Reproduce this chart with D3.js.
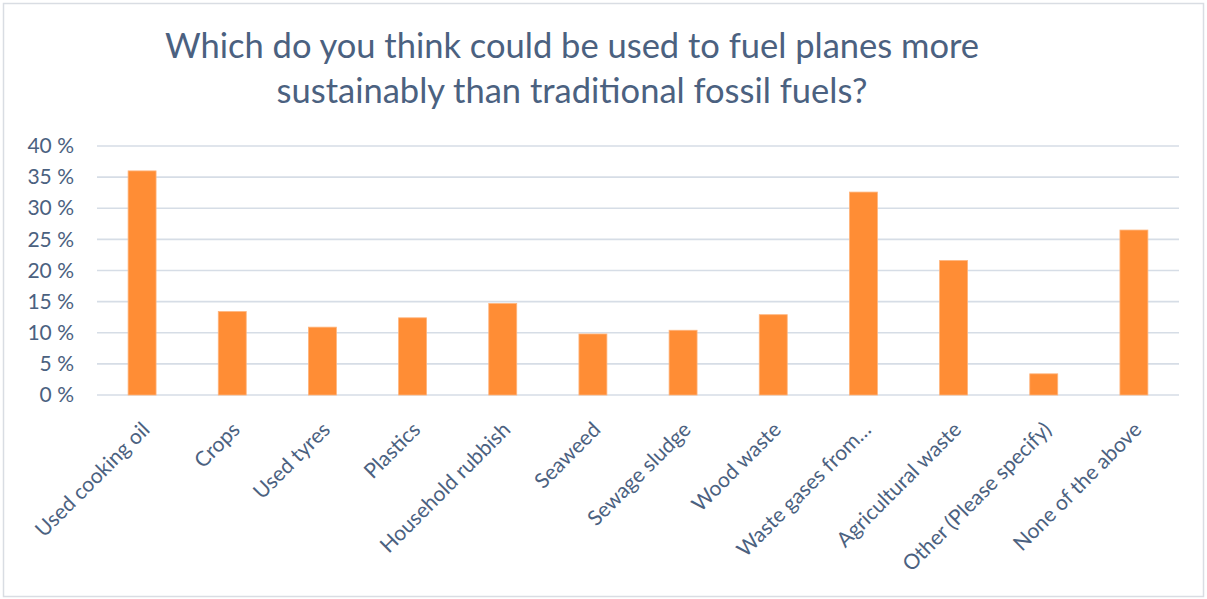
<!DOCTYPE html>
<html>
<head>
<meta charset="utf-8">
<script src="https://cdn.jsdelivr.net/npm/d3@7"></script>
<style>
  html, body { margin: 0; padding: 0; background: #fff; }
  svg { display: block; font-family: Lato, "Open Sans", sans-serif; }
</style>
</head>
<body>
<svg id="chart" width="1207" height="599"></svg>
<script>
// Survey answers: share of respondents choosing each fuel source
const categories = [
  "Used cooking oil", "Crops", "Used tyres", "Plastics", "Household rubbish",
  "Seaweed", "Sewage sludge", "Wood waste", "Waste gases from…",
  "Agricultural waste", "Other (Please specify)", "None of the above"
];
const shares = [36.0, 13.4, 10.9, 12.4, 14.7, 9.8, 10.4, 12.9, 32.6, 21.6, 3.4, 26.5];
const yTicks = [0, 5, 10, 15, 20, 25, 30, 35, 40];
const titleLines = [
  "Which do you think could be used to fuel planes more",
  "sustainably than traditional fossil fuels?"
];

const W = 1207, H = 599;
const margin = { top: 146, right: 28, bottom: 204, left: 97 };
const svg = d3.select("#chart");
const textColor = "#4b6180";
const font = "Lato, 'Open Sans', sans-serif";

// outer frame
svg.append("rect")
  .attr("x", 3.5).attr("y", 3.5)
  .attr("width", W - 7).attr("height", H - 6)
  .attr("fill", "#fff").attr("stroke", "#d9dde3").attr("stroke-width", 1.5);

const x = d3.scaleBand()
  .domain(categories)
  .range([margin.left, W - margin.right])
  .paddingInner(0.69).paddingOuter(0.345);

const y = d3.scaleLinear()
  .domain([0, 40])
  .range([H - margin.bottom, margin.top]);

// horizontal gridlines
svg.append("g")
  .selectAll("line")
  .data(yTicks)
  .join("line")
  .attr("x1", margin.left).attr("x2", W - margin.right)
  .attr("y1", d => y(d)).attr("y2", d => y(d))
  .attr("stroke", "#d6dde6").attr("stroke-width", 1.6);

// y axis labels
const yAxis = d3.axisLeft(y).tickValues(yTicks).tickSize(0).tickPadding(23)
  .tickFormat(d => d + " %");
svg.append("g")
  .attr("transform", `translate(${margin.left},0)`)
  .call(yAxis)
  .call(g => g.select(".domain").remove())
  .selectAll("text")
  .attr("fill", textColor)
  .style("font-size", "21px")
  .style("font-family", font);

// bars
svg.append("g")
  .selectAll("rect")
  .data(categories)
  .join("rect")
  .attr("x", d => x(d))
  .attr("width", x.bandwidth())
  .attr("y", (d, i) => y(shares[i]))
  .attr("height", (d, i) => y(0) - y(shares[i]))
  .attr("fill", "#ff8d35")
  .attr("stroke", "#ffb47c").attr("stroke-width", 0.8);

// x axis labels, rotated 45°
const xAxis = d3.axisBottom(x).tickSize(0).tickPadding(0);
svg.append("g")
  .attr("transform", `translate(0,${y(0)})`)
  .call(xAxis)
  .call(g => g.select(".domain").remove())
  .selectAll("text")
  .attr("fill", textColor)
  .style("font-size", "21px")
  .style("font-family", font)
  .attr("text-anchor", "end")
  .attr("dy", "0")
  .attr("transform", "translate(9,36) rotate(-45)");

// title
svg.append("g")
  .selectAll("text")
  .data(titleLines)
  .join("text")
  .attr("x", 572)
  .attr("y", (d, i) => 58 + i * 45)
  .attr("text-anchor", "middle")
  .attr("fill", textColor)
  .style("font-size", "34.5px")
  .text(d => d);
</script>
</body>
</html>
